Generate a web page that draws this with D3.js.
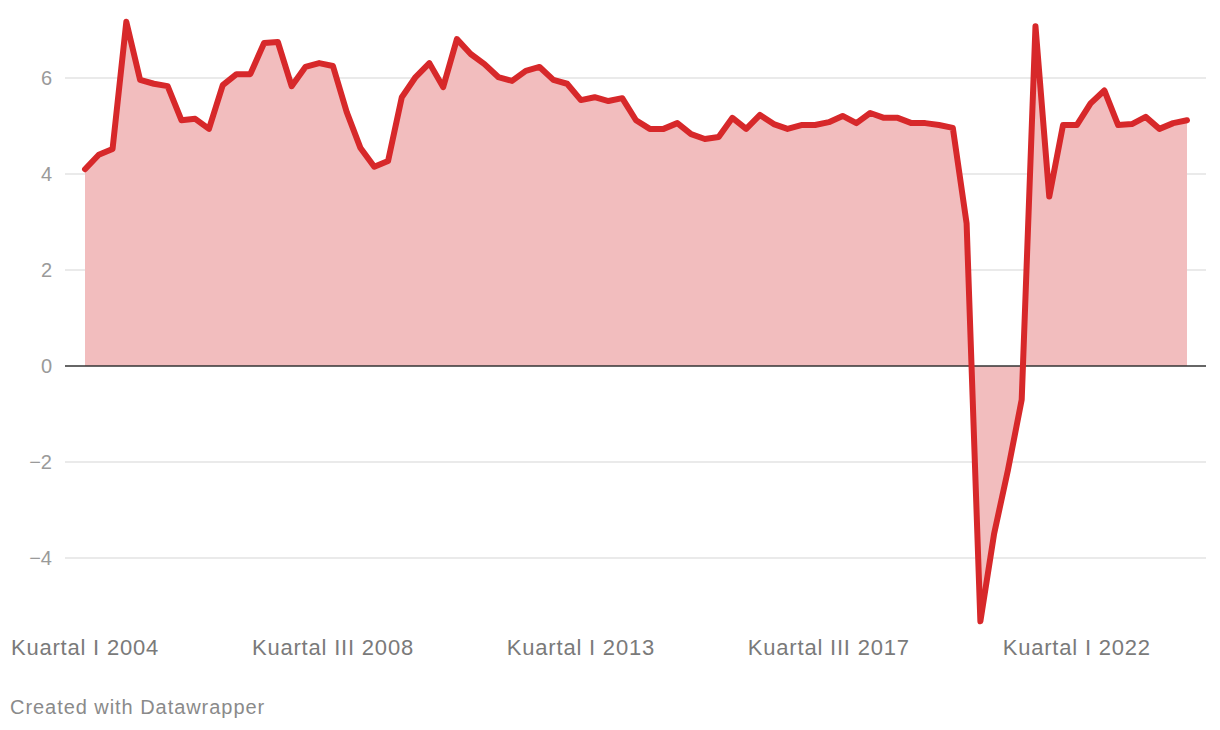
<!DOCTYPE html>
<html>
<head>
<meta charset="utf-8">
<script src="https://cdn.jsdelivr.net/npm/d3@7"></script>
<style>
  html, body { margin: 0; padding: 0; background: #fff; }
  svg text { font-family: "Liberation Sans", Arial, Helvetica, sans-serif; }
</style>
</head>
<body>
<svg id="chart" width="1220" height="730"></svg>
<script>
// Quarterly categories, Kuartal I 2004 .. Kuartal I 2024
const romans = ["I", "II", "III", "IV"];
const categories = [];
for (let y = 2004; y <= 2024; y++) {
  for (let q = 0; q < 4; q++) {
    if (y === 2024 && q > 0) break;
    categories.push("Kuartal " + romans[q] + " " + y);
  }
}

// Growth values (%)
const values = [
  4.10, 4.40, 4.52, 7.17, 5.96, 5.88, 5.83, 5.12, 5.15, 4.94,
  5.85, 6.08, 6.08, 6.73, 6.75, 5.83, 6.23, 6.31, 6.25, 5.29,
  4.54, 4.15, 4.27, 5.60, 6.02, 6.31, 5.81, 6.81, 6.50, 6.29,
  6.02, 5.94, 6.15, 6.23, 5.96, 5.88, 5.54, 5.60, 5.52, 5.58,
  5.12, 4.94, 4.94, 5.06, 4.83, 4.73, 4.77, 5.17, 4.94, 5.23,
  5.04, 4.94, 5.02, 5.02, 5.08, 5.21, 5.06, 5.27, 5.17, 5.17,
  5.06, 5.06, 5.02, 4.96, 2.97, -5.32, -3.49, -2.17, -0.70, 7.08,
  3.53, 5.02, 5.02, 5.47, 5.74, 5.02, 5.04, 5.19, 4.94, 5.06,
  5.12
];

const yTicks = [-4, -2, 0, 2, 4, 6];
const xTickLabels = ["Kuartal I 2004", "Kuartal III 2008", "Kuartal I 2013", "Kuartal III 2017", "Kuartal I 2022"];
const footerText = "Created with Datawrapper";

const data = categories.map((c, i) => ({ cat: c, value: values[i] }));

const svg = d3.select("#chart");

const x = d3.scalePoint().domain(categories).range([85, 1187]);
const y = d3.scaleLinear().domain([-4, 6]).range([558, 78]);

const gridLeft = 65, gridRight = 1206;

// gridlines
svg.append("g").selectAll("line")
  .data(yTicks.filter(d => d !== 0))
  .join("line")
  .attr("x1", gridLeft).attr("x2", gridRight)
  .attr("y1", d => y(d)).attr("y2", d => y(d))
  .attr("stroke", "#e3e3e3").attr("stroke-width", 1.5);

// y tick labels
svg.append("g").selectAll("text")
  .data(yTicks)
  .join("text")
  .attr("x", 52)
  .attr("y", d => y(d))
  .attr("dy", "0.36em")
  .attr("text-anchor", "end")
  .attr("fill", "#9a9a9a")
  .attr("font-size", 20)
  .text(d => d < 0 ? "\u2212" + Math.abs(d) : d);

// area
const area = d3.area()
  .x(d => x(d.cat))
  .y0(y(0))
  .y1(d => y(d.value));

svg.append("path")
  .datum(data)
  .attr("d", area)
  .attr("fill", "#f2bdbe");

// zero line
svg.append("line")
  .attr("x1", gridLeft).attr("x2", gridRight)
  .attr("y1", y(0)).attr("y2", y(0))
  .attr("stroke", "#333").attr("stroke-width", 1.5);

// line
const line = d3.line()
  .x(d => x(d.cat))
  .y(d => y(d.value));

svg.append("path")
  .datum(data)
  .attr("d", line)
  .attr("fill", "none")
  .attr("stroke", "#d7282a")
  .attr("stroke-width", 6)
  .attr("stroke-linejoin", "round")
  .attr("stroke-linecap", "round");

// x axis labels
svg.append("g").selectAll("text")
  .data(xTickLabels)
  .join("text")
  .attr("x", d => x(d))
  .attr("y", 655)
  .attr("text-anchor", "middle")
  .attr("fill", "#7a7a7a")
  .attr("font-size", 22)
  .attr("letter-spacing", "0.8px")
  .text(d => d);

// footer
svg.append("text")
  .attr("x", 10)
  .attr("y", 714)
  .attr("fill", "#8a8a8a")
  .attr("font-size", 20)
  .attr("letter-spacing", "0.95px")
  .text(footerText);
</script>
</body>
</html>
